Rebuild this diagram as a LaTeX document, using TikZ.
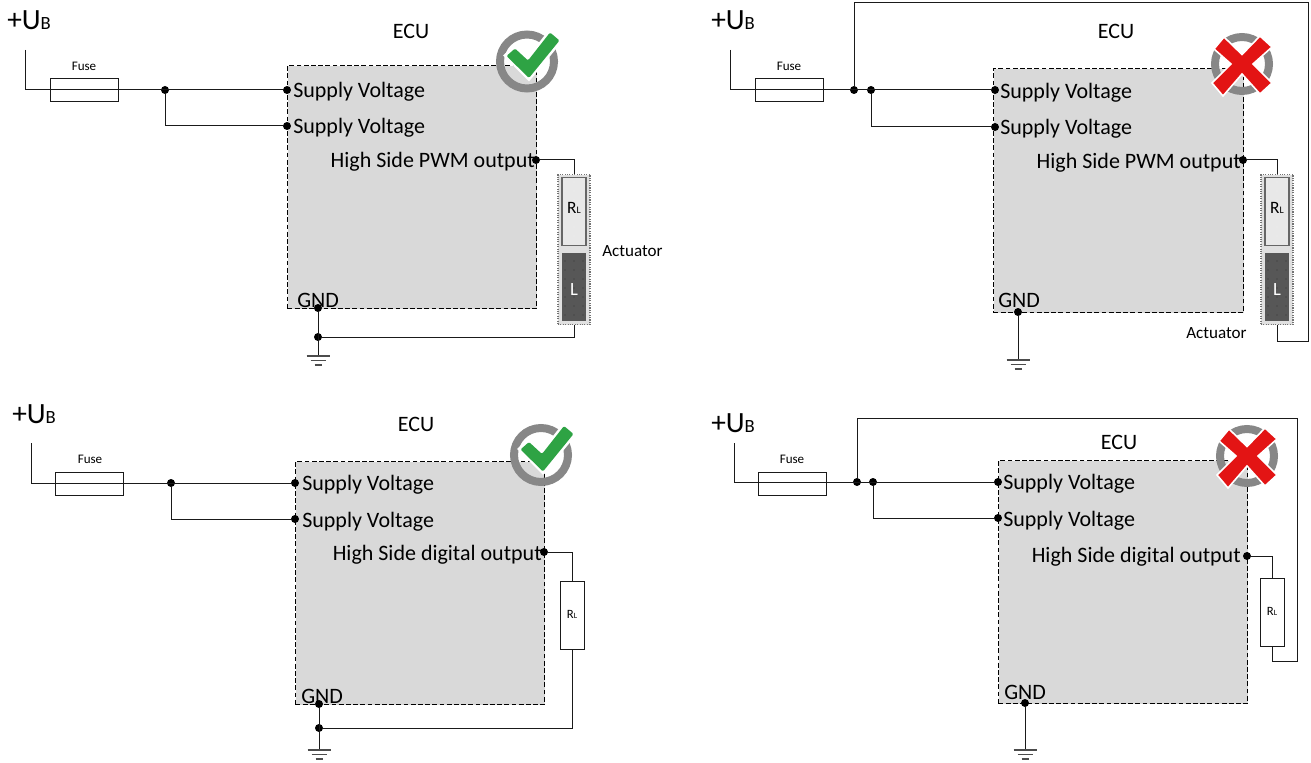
\documentclass[tikz,border=0pt]{standalone}
\usepackage{fontspec}
\setmainfont{Carlito}
\newcommand{\fs}[1]{\fontsize{#1}{#1}\selectfont}
\definecolor{ecu}{HTML}{D9D9D9}
\definecolor{wire}{HTML}{1A1A1A}
\definecolor{ringc}{HTML}{878787}
\definecolor{okc}{HTML}{2EA344}
\definecolor{noc}{HTML}{E31414}
\tikzset{
 x=0.75pt,y=-0.75pt,
 ecubox/.style={draw=black,fill=ecu,dash pattern=on 3.6pt off 1.8pt,line width=0.8pt},
 wirel/.style={draw=wire,line width=0.75pt},
 fusebox/.style={draw=wire,line width=0.75pt,inner sep=0pt,minimum width=51pt,minimum height=17.25pt},
 jdot/.style={circle,fill=black,inner sep=0pt,minimum size=6pt},
 lab/.style={inner sep=0pt,anchor=base west,font=\fs{16.5},yshift=-0.6pt},
 labr/.style={inner sep=0pt,anchor=base east,font=\fs{16.5},yshift=-0.6pt},
 labc/.style={inner sep=0pt,anchor=base,font=\fs{16.5},yshift=-0.6pt},
 fuselab/.style={inner sep=0pt,anchor=base,font=\fs{9.8},yshift=-0.6pt},
 actlab/.style={inner sep=0pt,anchor=base west,font=\fs{12.8}},
 ring/.style={draw=ringc,line width=6pt},
 loadbox/.style={draw=wire,fill=white,line width=0.75pt},
 ublab/.style={inner sep=0pt,anchor=base west,font=\fs{22}},
}
\newcommand{\gnd}[2]{%
 \draw[line width=0.8pt,draw=black!70] (#1-11.5,#2)--(#1+11.5,#2);
 \draw[line width=0.8pt,draw=black!70] (#1-7.5,#2+4.5)--(#1+7.5,#2+4.5);
 \draw[line width=0.8pt,draw=black!70] (#1-3.5,#2+9)--(#1+3.5,#2+9);
}
\newcommand{\okmark}[2]{%
 \begin{scope}[shift={(#1,#2)}]
 \draw[ring] (0,0) circle[radius=27];
 \fill[white] (-24,-6)--(-12,-17)--(1,-5)--(23,-33)--(36,-21)--(2,20)--cycle;
 \fill[okc,rounded corners=1pt] (-20.5,-5.5)--(-12,-13)--(1,-1)--(23,-29)--(32.5,-21)--(2,16.5)--cycle;
 \end{scope}}
\newcommand{\nomark}[2]{%
 \begin{scope}[shift={(#1,#2)}]
 \draw[ring] (0,0) circle[radius=27];
 \filldraw[fill=noc,draw=white,line width=1.2pt]
   (-18,-27)--(0,-9.5)--(18,-28)--(30,-17)--(11,0)--(30,19)--(18,30)--(0,10)--(-19,32)--(-30,19)--(-11,0)--(-28,-15)--cycle;
 \end{scope}}
\newcommand{\actuator}[3]{%
 \node[draw=black!55,densely dotted,fill=black!12,line width=0.8pt,inner sep=0pt,minimum width=24pt,minimum height=112.5pt,anchor=north] (#1act) at (#2,#3) {};
 \node[draw=black!60,fill=black!9,line width=0.8pt,inner sep=0pt,minimum width=18pt,minimum height=51pt,anchor=north] (#1r) at (#2,#3+3) {};
 \node[fill=black!66,inner sep=0pt,minimum width=18.5pt,minimum height=51pt,anchor=north] (#1l) at (#2,#3+79) {};
 \foreach \dx in {-9,0,9} \foreach \dy in {8,17,26,35,44,53,62}{
   \fill[white] (#2+\dx,#3+\dy) circle[radius=0.35pt];
   \fill[black] (#2+\dx,#3+79+\dy) circle[radius=0.35pt];}
 \node[inner sep=0pt,anchor=base,font=\fs{13}] (#1rt) at (#2,#3+40) {R\fs{7.5}L};
 \node[inner sep=0pt,anchor=base,font=\fs{14},text=white] (#1lt) at (#2,#3+122) {L};
}
\begin{document}
\begin{tikzpicture}
\useasboundingbox (0,0) rectangle (1311,763);
% ---------- Panel 1
\node[ecubox,inner sep=0pt,minimum width=186.75pt,minimum height=182.25pt,anchor=north west] (a) at (287,65) {};
\node[ublab] (aub) at (7,30) {+U\fs{14}B};
\node[labc] (aecu) at (411,38) {ECU};
\node[fuselab] (aft) at (84,70) {Fuse};
\coordinate (as) at (25,50); \coordinate (ac) at (25,90);
\node[jdot] (aj) at (165,90) {};
\node[jdot] (as1) at (287,90) {};
\node[jdot] (as2) at (287,126) {};
\node[jdot] (aout) at (536,160) {};
\node[jdot] (agnd) at (318,308) {};
\node[jdot] (agj) at (318,337) {};
\coordinate (ag) at (318,356);
\actuator{a}{574}{174}
\draw[wirel] (as)--(ac)--(as1);
\draw[wirel] (aj)|-(as2);
\draw[wirel] (aout)-|(aact.north);
\draw[wirel] (aact.south)|-(agj);
\draw[wirel] (agnd)--(ag);
\node[fusebox] (af) at (84,90.5) {};
\gnd{318}{356}
\node[lab] at (293,97) {Supply Voltage};
\node[lab] at (293,133) {Supply Voltage};
\node[labr] at (535,167) {High Side PWM output};
\node[lab] at (297,307) {GND};
\node[actlab] at (602,257) {Actuator};
\okmark{527}{61.5}
% ---------- Panel 2
\node[ecubox,inner sep=0pt,minimum width=187.5pt,minimum height=183pt,anchor=north west] (b) at (993,68) {};
\node[ublab] (bub) at (711,30) {+U\fs{14}B};
\node[labc] (becu) at (1116,38) {ECU};
\node[fuselab] (bft) at (789,70) {Fuse};
\coordinate (bs) at (730,50); \coordinate (bc) at (730,90);
\node[jdot] (bj0) at (854,90) {};
\node[jdot] (bj) at (871,90) {};
\node[jdot] (bs1) at (995,90) {};
\node[jdot] (bs2) at (995,127) {};
\node[jdot] (bout) at (1243,160) {};
\node[jdot] (bgnd) at (1018,312) {};
\coordinate (bg) at (1018,360);
\coordinate (bt1) at (854,3); \coordinate (bt2) at (1308,3); \coordinate (bt3) at (1308,341); \coordinate (bt4) at (1277,341);
\actuator{b}{1277}{174}
\draw[wirel] (bs)--(bc)--(bs1);
\draw[wirel] (bj)|-(bs2);
\draw[wirel] (bout)-|(bact.north);
\draw[wirel] (bgnd)--(bg);
\draw[wirel] (bj0)--(bt1)--(bt2)--(bt3)--(bt4)--(bact.south);
\node[fusebox] (bf) at (789,90.5) {};
\gnd{1018}{360}
\node[lab] at (1000,98) {Supply Voltage};
\node[lab] at (1000,134) {Supply Voltage};
\node[labr] at (1241,168) {High Side PWM output};
\node[lab] at (998,307) {GND};
\node[actlab] at (1186,338) {Actuator};
\nomark{1242}{64}
% ---------- Panel 3
\node[ecubox,inner sep=0pt,minimum width=186.75pt,minimum height=182.25pt,anchor=north west] (c) at (295,461) {};
\node[ublab] (cub) at (12,423) {+U\fs{14}B};
\node[labc] (cecu) at (416,431) {ECU};
\node[fuselab] (cft) at (90,463) {Fuse};
\coordinate (cs) at (31,443); \coordinate (cc) at (31,483);
\node[jdot] (cj) at (171,483) {};
\node[jdot] (cs1) at (295,483) {};
\node[jdot] (cs2) at (295,519) {};
\node[jdot] (cout) at (544,552) {};
\node[jdot] (cgnd) at (319,704) {};
\node[jdot] (cgj) at (319,728) {};
\coordinate (cg) at (319,750);
\node[loadbox,inner sep=0pt,minimum width=18pt,minimum height=51pt,anchor=north] (cr) at (572,581) {};
\node[inner sep=0pt,anchor=base,font=\fs{9.5}] at (572,618) {R\fs{6}L};
\draw[wirel] (cs)--(cc)--(cs1);
\draw[wirel] (cj)|-(cs2);
\draw[wirel] (cout)-|(cr.north);
\draw[wirel] (cr.south)|-(cgj);
\draw[wirel] (cgnd)--(cg);
\node[fusebox] (cf) at (89,483.5) {};
\gnd{319}{750}
\node[lab] at (302,490) {Supply Voltage};
\node[lab] at (302,527) {Supply Voltage};
\node[labr] at (542,560) {High Side digital output};
\node[lab] at (301,703) {GND};
\okmark{541}{455}
% ---------- Panel 4
\node[ecubox,inner sep=0pt,minimum width=186.75pt,minimum height=182.25pt,anchor=north west] (d) at (998,460) {};
\node[ublab] (dub) at (711,432) {+U\fs{14}B};
\node[labc] (decu) at (1119,449) {ECU};
\node[fuselab] (dft) at (792,463) {Fuse};
\coordinate (ds) at (734,443); \coordinate (dc) at (734,482);
\node[jdot] (dj0) at (857,482) {};
\node[jdot] (dj) at (873,482) {};
\node[jdot] (ds1) at (998,482) {};
\node[jdot] (ds2) at (998,518) {};
\node[jdot] (dout) at (1247,556) {};
\node[jdot] (dgnd) at (1025,703) {};
\coordinate (dg) at (1025,750);
\coordinate (dt1) at (857,418); \coordinate (dt2) at (1297,418); \coordinate (dt3) at (1297,661); \coordinate (dt4) at (1272,661);
\node[loadbox,inner sep=0pt,minimum width=18pt,minimum height=51pt,anchor=north] (dr) at (1272,578) {};
\node[inner sep=0pt,anchor=base,font=\fs{9.5}] at (1272,615) {R\fs{6}L};
\draw[wirel] (ds)--(dc)--(ds1);
\draw[wirel] (dj)|-(ds2);
\draw[wirel] (dout)-|(dr.north);
\draw[wirel] (dgnd)--(dg);
\draw[wirel] (dj0)--(dt1)--(dt2)--(dt3)--(dt4)--(dr.south);
\node[fusebox] (df) at (792,483.5) {};
\gnd{1025}{750}
\node[lab] at (1003,489) {Supply Voltage};
\node[lab] at (1003,526) {Supply Voltage};
\node[labr] at (1241,562) {High Side digital output};
\node[lab] at (1004,699) {GND};
\nomark{1247}{456}
\end{tikzpicture}
\end{document}
